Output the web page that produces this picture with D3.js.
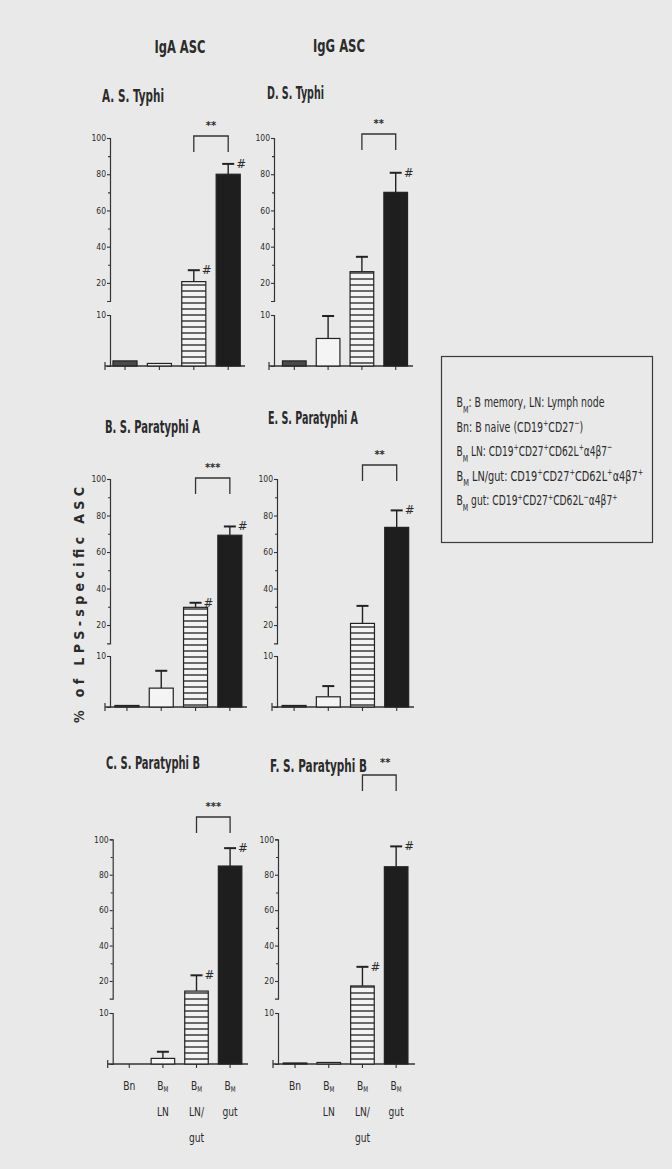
<!DOCTYPE html>
<html><head><meta charset="utf-8">
<script src="https://cdn.jsdelivr.net/npm/d3@7"></script>
<style>
html,body{margin:0;padding:0;background:#e9e9e9;}
svg{display:block;}
text{font-family:"Liberation Sans Narrow","DejaVu Sans Condensed","Arial Narrow",sans-serif;fill:#2b2b2b;}
</style></head>
<body>
<svg id="c" width="672" height="1169"></svg>
<script>
// ---------- data ----------
const categories = ["Bn", "BM LN", "BM LN/gut", "BM gut"];
const panelTitles = ["A. S. Typhi", "D. S. Typhi", "B. S. Paratyphi A", "E. S. Paratyphi A", "C. S. Paratyphi B", "F. S. Paratyphi B"];
const columnTitles = ["IgA ASC", "IgG ASC"];
const meanA = [1.0, 0.5, 20.7, 80.0];
const errA  = [0, 0, 6.3, 5.7];
const meanD = [1.0, 5.4, 26.2, 70.0];
const errD  = [0, 4.4, 8.2, 10.8];
const meanB = [0.3, 3.7, 29.7, 69.2];
const errB  = [0, 3.4, 2.5, 4.8];
const meanE = [0.3, 2.0, 20.9, 73.5];
const errE  = [0, 2.1, 9.6, 9.3];
const meanC = [0, 1.1, 14.3, 84.9];
const errC  = [0, 1.3, 8.9, 10.1];
const meanF = [0.2, 0.3, 17.2, 84.5];
const errF  = [0, 0, 10.8, 11.5];
const sigLabels = ["**", "**", "***", "**", "***", "**"];
const hashFlags = [[0,0,1,1],[0,0,0,1],[0,0,1,1],[0,0,0,1],[0,0,1,1],[0,0,1,1]];
const upperTicks = [20, 40, 60, 80, 100];
const upperMinor = [30, 50, 70, 90];
const lowerTicks = [10];
const yLabel = "% of LPS-specific ASC";
const legendLines = [
  [["B",""],["M","sub"],[": B memory, LN: Lymph node",""]],
  [["Bn: B naive (CD19",""],["+","sup"],["CD27",""],["\u2212","sup"],[")",""]],
  [["B",""],["M","sub"],[" LN: CD19",""],["+","sup"],["CD27",""],["+","sup"],["CD62L",""],["+","sup"],["\u03b14\u03b27",""],["\u2212","sup"]],
  [["B",""],["M","sub"],[" LN/gut: CD19",""],["+","sup"],["CD27",""],["+","sup"],["CD62L",""],["+","sup"],["\u03b14\u03b27",""],["+","sup"]],
  [["B",""],["M","sub"],[" gut: CD19",""],["+","sup"],["CD27",""],["+","sup"],["CD62L",""],["\u2212","sup"],["\u03b14\u03b27",""],["+","sup"]]
];
const means = [meanA, meanD, meanB, meanE, meanC, meanF];
const errs  = [errA, errD, errB, errE, errC, errF];

// ---------- layout ----------
const rowsL = [
  {y100:138, y10u:301, y10l:315, y0:366},
  {y100:479, y10u:643.3, y10l:656, y0:707},
  {y100:839.3, y10u:998.7, y10l:1013, y0:1064}
];
const panelsL = [
  {row:0, ax:110, xs:107.8, step:34.4, xe:245, brY:136, tx:102, ty:102},
  {row:0, ax:274, xs:277.4, step:33.8, xe:413, brY:134, tx:267, ty:99},
  {row:1, ax:110, xs:109.8, step:34.3, xe:247, brY:478, tx:105, ty:433},
  {row:1, ax:277, xs:277,   step:34.2, xe:414, brY:465, tx:268, ty:424},
  {row:2, ax:112.7, xs:112.5, step:33.6, xe:248, brY:817, tx:106, ty:769},
  {row:2, ax:278, xs:278.2, step:33.7, xe:415, brY:775, tx:270, ty:772}
];
const titleW = [62, 57, 95, 90, 94, 97];

const svg = d3.select("#c");
svg.append("rect").attr("width",672).attr("height",1169).attr("fill","#e9e9e9");

const defs = svg.append("defs");
const pat = defs.append("pattern").attr("id","stripes").attr("patternUnits","userSpaceOnUse")
  .attr("width",8).attr("height",6);
pat.append("rect").attr("width",8).attr("height",6).attr("fill","#f3f3f3");
pat.append("rect").attr("y",2).attr("width",8).attr("height",2).attr("fill","#6a6a6a");

const fills = ["#4a4a4a", "#f4f4f4", "url(#stripes)", "#1e1e1e"];

// helper: place text squeezed horizontally to a target width
function squeezed(parent, str, x, y, size, target, anchor) {
  const t = parent.append("text").attr("font-size",size).attr("font-weight","bold").text(str);
  const w = t.node().getComputedTextLength() || target;
  const s = Math.min(1, target / w);
  const x0 = anchor === "middle" ? x - target/2 : x;
  t.attr("transform", `translate(${x0},${y}) scale(${s},1)`);
  return t;
}

// column titles
squeezed(svg, columnTitles[0], 180, 53, 17, 51, "middle");
squeezed(svg, columnTitles[1], 339, 52, 17, 52, "middle");

// y axis label
svg.append("text").attr("transform","translate(84,605) rotate(-90)").attr("text-anchor","middle")
  .attr("font-family","DejaVu Sans, sans-serif").attr("font-weight","bold").attr("font-size",14)
  .attr("textLength",236).attr("lengthAdjust","spacing").text(yLabel);

panelsL.forEach((p, i) => {
  const r = rowsL[p.row];
  const g = svg.append("g");
  const yUp = d3.scaleLinear().domain([10,100]).range([r.y10u, r.y100]);
  const yLo = d3.scaleLinear().domain([0,10]).range([r.y0, r.y10l]);
  const yv = v => v <= 10 ? yLo(v) : yUp(v);
  const x = d3.scaleBand().domain(categories).range([p.xs, p.xs + 4*p.step]).paddingInner(0.3).paddingOuter(0.15);
  const bw = x.bandwidth();

  // title
  squeezed(g, panelTitles[i], p.tx, p.ty, 17, titleW[i], "start");

  // y axes
  const axU = g.append("g").attr("transform",`translate(${p.ax},0)`)
    .call(d3.axisLeft(yUp).tickValues(upperTicks).tickSizeOuter(0).tickSize(3).tickFormat(d3.format("d")));
  g.append("g").attr("transform",`translate(${p.ax},0)`)
    .call(d3.axisLeft(yUp).tickValues(upperMinor).tickSizeOuter(0).tickSize(2).tickFormat(""))
    .select(".domain").remove();
  const axL = g.append("g").attr("transform",`translate(${p.ax},0)`)
    .call(d3.axisLeft(yLo).tickValues(lowerTicks).tickSizeOuter(0).tickSize(3).tickFormat(d3.format("d")));
  [axU, axL].forEach(a => {
    a.selectAll("text").attr("font-size",8.5).attr("fill","#333").attr("x",-4);
  });
  g.selectAll(".domain").attr("stroke","#333").attr("stroke-width",1.2);
  g.selectAll(".tick line").attr("stroke","#333").attr("stroke-width",1.1);

  // x axis
  const axX = g.append("g").attr("transform",`translate(0,${r.y0})`)
    .call(d3.axisBottom(x).tickSize(4).tickSizeOuter(0).tickFormat(""));
  axX.select(".domain").remove();
  axX.selectAll(".tick line").attr("stroke","#333").attr("stroke-width",1.1);
  g.append("line").attr("x1",p.ax-5).attr("x2",p.xe).attr("y1",r.y0).attr("y2",r.y0)
    .attr("stroke","#333").attr("stroke-width",1.4);
  g.append("line").attr("x1",p.ax-5).attr("x2",p.ax-5).attr("y1",r.y0-4).attr("y2",r.y0+4)
    .attr("stroke","#333").attr("stroke-width",1.2);

  const m = means[i], e = errs[i];
  // error bars
  categories.forEach((c, k) => {
    if (e[k] <= 0) return;
    const cx = x(c) + bw/2;
    const top = yv(m[k] + e[k]);
    g.append("line").attr("x1",cx).attr("x2",cx).attr("y1",yv(m[k])).attr("y2",top)
      .attr("stroke","#222").attr("stroke-width",1.4);
    g.append("line").attr("x1",cx-6).attr("x2",cx+6).attr("y1",top).attr("y2",top)
      .attr("stroke","#222").attr("stroke-width",2);
  });
  // bars
  g.selectAll("rect.bar").data(categories).join("rect").attr("class","bar")
    .attr("x", c => x(c)).attr("width", bw)
    .attr("y", (c,k) => yv(m[k])).attr("height", (c,k) => Math.max(0, r.y0 - yv(m[k])))
    .attr("fill", (c,k) => fills[k]).attr("stroke","#222").attr("stroke-width",1.2);

  // # markers
  categories.forEach((c, k) => {
    if (!hashFlags[i][k]) return;
    const cx = x(c) + bw/2;
    const top = yv(m[k] + e[k]);
    g.append("text").attr("x",cx+8).attr("y",top+4).attr("font-size",13).text("#");
  });

  // significance bracket between bars 3 and 4
  const x1 = x(categories[2]) + bw/2, x2 = x(categories[3]) + bw/2;
  g.append("path").attr("d",`M${x1},${p.brY+16}V${p.brY}H${x2}V${p.brY+16}`)
    .attr("fill","none").attr("stroke","#333").attr("stroke-width",1.3);
  const sx = i === 5 ? (x1+x2)/2 + 6 : (x1+x2)/2;
  const sy = i === 5 ? p.brY - 9 : p.brY - 7;
  g.append("text").attr("x",sx).attr("y",sy).attr("text-anchor","middle").attr("font-size",11)
    .attr("font-weight","bold").text(sigLabels[i]);

  // x labels on bottom row
  if (p.row === 2) {
    categories.forEach((c, k) => {
      const cx = x(c) + bw/2;
      const parts = c.split(" ");
      const lines = parts[0] === "BM" ? ["BM"].concat(parts[1].includes("/") ? ["LN/", "gut"] : [parts[1]]) : [c];
      lines.forEach((ln, j) => {
        const t = g.append("text").attr("font-size",13);
        if (ln === "BM") {
          t.append("tspan").text("B");
          t.append("tspan").attr("font-size",8).attr("baseline-shift","-30%").text("M");
        } else t.text(ln);
        t.attr("transform",`translate(${cx},${r.y0 + 26 + j*26}) scale(0.78,1)`).attr("text-anchor","middle");
      });
    });
  }
});

// legend
const lg = svg.append("g");
lg.append("rect").attr("x",441.5).attr("y",356.5).attr("width",211).attr("height",186)
  .attr("fill","none").attr("stroke","#3a3a3a").attr("stroke-width",1.2);
const legW = [148, 127, 156, 187, 161];
legendLines.forEach((ln, i) => {
  const t = lg.append("text").attr("x",0).attr("y",0).attr("font-size",14);
  ln.forEach(([s, kind]) => {
    const ts = t.append("tspan").text(s);
    if (kind === "sub") ts.attr("font-size",9.5).attr("baseline-shift","sub");
    else if (kind === "sup") ts.attr("font-size",9.5).attr("baseline-shift","super");
  });
  const w = t.node().getComputedTextLength() || legW[i];
  const sx = Math.min(1, legW[i] / w);
  t.attr("transform", `translate(456.5,${407 + i*24.6}) scale(${sx},1)`);
});
</script>
</body></html>
